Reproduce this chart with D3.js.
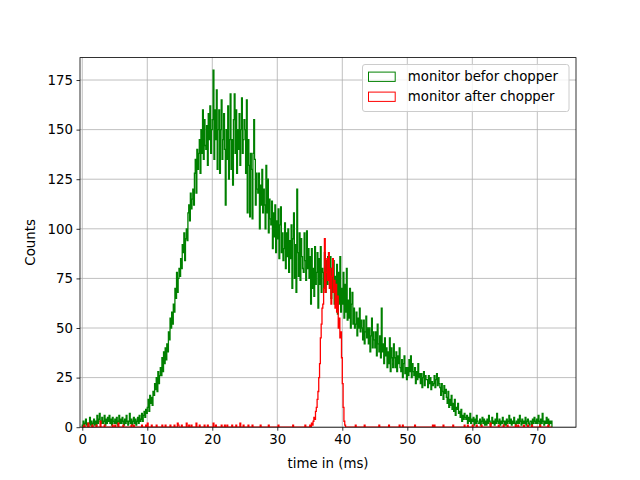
<!DOCTYPE html>
<html>
<head>
<meta charset="utf-8">
<script src="https://cdn.jsdelivr.net/npm/d3@7"></script>
<style>
  body { margin: 0; background: #fff; }
  svg { font-family: "DejaVu Sans", sans-serif; }
</style>
</head>
<body>
<svg id="chart" width="640" height="480"></svg>
<script>
// histogram bins start at 0 ms, 0.125 ms wide (8 bins per ms, one row per ms)
const binStart = 0;
const binWidth = 0.125;

// counts per bin, monitor before the chopper
const countsBefore = [
    1, 3, 0, 2, 4, 1, 2, 0,
    2, 5, 1, 3, 0, 2, 4, 1,
    3, 1, 6, 2, 4, 7, 3, 2,
    5, 2, 3, 6, 1, 4, 2, 5,
    3, 6, 2, 4, 1, 5, 3, 2,
    4, 2, 5, 1, 3, 6, 2, 4,
    2, 5, 3, 1, 4, 2, 6, 3,
    1, 3, 7, 2, 4, 1, 3, 5,
    2, 4, 1, 3, 5, 2, 6, 3,
    4, 7, 3, 6, 8, 5, 9, 7,
    10, 14, 8, 16, 12, 15, 11, 18,
    16, 22, 19, 25, 18, 28, 22, 26,
    30, 26, 35, 28, 38, 32, 40, 34,
    42, 38, 48, 44, 55, 50, 58, 52,
    62, 58, 70, 65, 78, 68, 75, 80,
    76, 85, 80, 92, 88, 98, 84, 95,
    100, 94, 108, 112, 104, 118, 110, 115,
    120, 112, 128, 135, 118, 140, 130, 138,
    145, 128, 150, 138, 160, 135, 155, 142,
    140, 152, 132, 158, 145, 162, 138, 150,
    155, 180, 135, 160, 145, 170, 130, 150,
    160, 128, 150, 165, 135, 145, 158, 140,
    112, 150, 135, 162, 125, 145, 168, 130,
    145, 122, 155, 168, 138, 160, 128, 150,
    140, 158, 132, 150, 166, 138, 145, 155,
    150, 128, 165, 108, 145, 132, 106, 138,
    130, 105, 138, 155, 135, 112, 128, 120,
    118, 128, 100, 122, 112, 130, 108, 120,
    112, 100, 132, 108, 125, 98, 115, 105,
    102, 114, 90, 108, 96, 112, 88, 104,
    95, 110, 85, 102, 111, 88, 98, 84,
    90, 103, 80, 98, 86, 100, 78, 94,
    85, 102, 70, 95, 108, 75, 92, 68,
    120, 88, 76, 98, 74, 95, 86, 80,
    78, 98, 84, 74, 99, 80, 90, 75,
    86, 62, 90, 70, 80, 66, 91, 72,
    78, 88, 60, 85, 72, 91, 68, 80,
    78, 70, 88, 68, 84, 72, 86, 74,
    72, 86, 65, 80, 68, 84, 62, 76,
    66, 82, 57, 78, 62, 86, 58, 70,
    62, 78, 55, 72, 58, 80, 54, 64,
    55, 70, 50, 62, 68, 52, 60, 50,
    52, 58, 46, 55, 50, 60, 48, 54,
    50, 44, 54, 42, 48, 56, 45, 50,
    42, 50, 38, 46, 55, 40, 48, 44,
    40, 48, 36, 52, 42, 38, 46, 35,
    60, 38, 42, 32, 45, 36, 40, 30,
    38, 32, 45, 28, 40, 35, 30, 42,
    35, 30, 38, 28, 36, 32, 40, 30,
    28, 34, 25, 32, 36, 27, 30, 24,
    30, 26, 34, 28, 36, 25, 32, 28,
    26, 30, 22, 28, 24, 32, 25, 27,
    22, 27, 20, 25, 28, 21, 26, 24,
    24, 20, 26, 22, 25, 19, 23, 21,
    22, 26, 20, 24, 27, 21, 25, 22,
    20, 16, 22, 18, 14, 21, 17, 19,
    15, 12, 18, 10, 14, 11, 16, 9,
    12, 8, 14, 6, 10, 9, 12, 7,
    8, 5, 9, 3, 6, 4, 7, 5,
    4, 6, 2, 5, 3, 7, 2, 4,
    3, 5, 1, 4, 2, 6, 3, 2,
    2, 4, 1, 3, 5, 2, 4, 1,
    3, 1, 4, 2, 6, 3, 1, 2,
    5, 2, 3, 1, 4, 2, 7, 3,
    2, 4, 1, 3, 2, 5, 3, 1,
    3, 1, 4, 2, 3, 6, 2, 4,
    1, 3, 2, 5, 2, 1, 3, 2,
    4, 2, 6, 3, 1, 4, 2, 3,
    2, 5, 1, 3, 4, 2, 1, 3,
    3, 1, 4, 2, 5, 3, 2, 4,
    2, 6, 3, 1, 4, 2, 7, 3,
    1, 3, 2, 5, 2, 4, 1, 3,
    2, 3
];

// counts per bin, monitor after the chopper
const countsAfter = [
    0, 0, 1, 0, 0, 0, 0, 2,
    0, 0, 0, 0, 1, 0, 0, 0,
    0, 1, 0, 0, 0, 0, 3, 0,
    0, 0, 0, 1, 0, 0, 0, 0,
    0, 0, 0, 0, 0, 1, 0, 0,
    1, 0, 0, 0, 2, 0, 0, 0,
    0, 0, 1, 0, 0, 0, 0, 0,
    0, 0, 0, 0, 1, 0, 0, 1,
    0, 0, 0, 0, 0, 0, 0, 0,
    0, 1, 0, 0, 0, 0, 1, 0,
    2, 0, 0, 0, 0, 1, 0, 0,
    0, 0, 0, 1, 0, 0, 0, 0,
    0, 0, 1, 0, 0, 0, 1, 0,
    0, 0, 0, 0, 1, 0, 0, 0,
    0, 1, 0, 0, 0, 2, 1, 0,
    0, 0, 1, 0, 0, 0, 0, 0,
    2, 0, 0, 1, 0, 0, 1, 0,
    0, 0, 0, 0, 2, 0, 0, 0,
    1, 0, 0, 0, 0, 0, 1, 0,
    0, 0, 1, 0, 0, 0, 0, 0,
    0, 2, 0, 0, 1, 0, 0, 0,
    0, 0, 0, 1, 0, 0, 0, 1,
    0, 0, 1, 0, 0, 0, 0, 0,
    1, 0, 0, 0, 0, 1, 0, 0,
    0, 0, 2, 0, 0, 0, 1, 0,
    0, 0, 0, 0, 1, 0, 0, 0,
    0, 1, 0, 0, 0, 0, 0, 0,
    0, 0, 0, 1, 0, 0, 0, 0,
    0, 0, 0, 0, 0, 1, 0, 0,
    0, 0, 0, 0, 0, 0, 0, 0,
    0, 1, 0, 0, 0, 0, 0, 0,
    0, 0, 0, 0, 0, 0, 0, 0,
    0, 0, 0, 1, 0, 0, 0, 0,
    0, 0, 0, 0, 0, 0, 0, 0,
    0, 0, 1, 0, 0, 0, 0, 0,
    1, 0, 2, 1, 3, 5, 4, 8,
    10, 14, 18, 25, 32, 45, 52, 60,
    62, 70, 95, 68, 78, 85, 74, 88,
    70, 80, 62, 76, 85, 68, 74, 60,
    72, 58, 66, 50, 55, 45, 48, 35,
    22, 10, 3, 1, 0, 0, 0, 0,
    0, 0, 0, 0, 0, 0, 0, 0,
    1, 0, 0, 0, 0, 0, 0, 0,
    0, 0, 0, 1, 0, 0, 0, 0,
    0, 0, 0, 0, 0, 0, 0, 0,
    0, 0, 0, 0, 0, 1, 0, 0,
    0, 0, 0, 0, 0, 0, 0, 0,
    0, 1, 0, 0, 0, 0, 0, 0,
    0, 0, 0, 0, 0, 0, 1, 0,
    0, 0, 1, 0, 0, 0, 0, 0,
    0, 0, 0, 0, 0, 0, 0, 0,
    0, 1, 0, 0, 0, 0, 0, 0,
    0, 0, 0, 0, 0, 0, 0, 0,
    0, 0, 0, 0, 0, 0, 0, 1,
    0, 1, 0, 0, 0, 0, 0, 0,
    0, 0, 0, 0, 1, 0, 0, 0,
    0, 0, 0, 0, 0, 0, 0, 0,
    1, 0, 0, 0, 0, 0, 0, 0,
    0, 0, 0, 0, 0, 0, 1, 0,
    0, 0, 1, 0, 0, 0, 0, 0,
    1, 0, 0, 0, 0, 1, 0, 0,
    0, 0, 0, 1, 0, 0, 0, 0,
    0, 0, 0, 0, 0, 0, 2, 0,
    0, 0, 0, 0, 0, 0, 0, 0,
    1, 0, 0, 0, 0, 0, 1, 0,
    0, 0, 0, 1, 0, 0, 0, 0,
    0, 0, 0, 0, 0, 1, 0, 0,
    1, 0, 0, 0, 0, 0, 0, 1,
    0, 0, 0, 0, 1, 0, 0, 0,
    0, 1, 0, 0, 0, 0, 0, 0,
    0, 0, 0, 1, 0, 0, 0, 0,
    0, 0, 0, 0, 0, 1, 0, 0,
    0, 0
];

const xTicks = [0, 10, 20, 30, 40, 50, 60, 70];
const yTicks = [0, 25, 50, 75, 100, 125, 150, 175];
const seriesNames = ["monitor befor chopper", "monitor after chopper"];
const seriesColors = ["green", "red"];

const svg = d3.select("#chart");
const margin = {top: 57.6, right: 64, bottom: 52.8, left: 80};
const width = 640 - margin.left - margin.right;
const height = 480 - margin.top - margin.bottom;

let xScale = d3.scaleLinear().domain([-0.35, 75.95]).range([0, width]);
let yScale = d3.scaleLinear().domain([0, 186.3]).range([height, 0]);

let g = svg.append("g")
    .attr("transform", "translate(" + margin.left + "," + margin.top + ")");

// grid
g.append("g").selectAll("line").data(xTicks).enter().append("line")
    .attr("x1", d => xScale(d)).attr("x2", d => xScale(d))
    .attr("y1", 0).attr("y2", height)
    .attr("stroke", "#b0b0b0").attr("stroke-width", 0.8);
g.append("g").selectAll("line").data(yTicks).enter().append("line")
    .attr("x1", 0).attr("x2", width)
    .attr("y1", d => yScale(d)).attr("y2", d => yScale(d))
    .attr("stroke", "#b0b0b0").attr("stroke-width", 0.8);

// step outline like matplotlib histtype='step'
function stepPoints(counts) {
    let pts = [[binStart, 0]];
    counts.forEach(function(c, i) {
        let x0 = binStart + i * binWidth;
        pts.push([x0, c]);
        pts.push([x0 + binWidth, c]);
    });
    pts.push([binStart + counts.length * binWidth, 0]);
    return pts;
}

let line = d3.line()
    .x(d => xScale(d[0]))
    .y(d => yScale(d[1]));

svg.append("clipPath").attr("id", "plotArea")
    .append("rect").attr("width", width).attr("height", height);

[countsBefore, countsAfter].forEach(function(counts, i) {
    g.append("path")
        .attr("d", line(stepPoints(counts)))
        .attr("fill", "none")
        .attr("stroke", seriesColors[i])
        .attr("stroke-width", 1.3)
        .attr("stroke-linejoin", "miter")
        .attr("clip-path", "url(#plotArea)");
});

// axes
let xAxis = g.append("g")
    .attr("transform", "translate(0," + height + ")")
    .call(d3.axisBottom(xScale).tickValues(xTicks).tickSizeOuter(0).tickSize(3.5).tickPadding(3.5));
let yAxis = g.append("g")
    .call(d3.axisLeft(yScale).tickValues(yTicks).tickSizeOuter(0).tickSize(3.5).tickPadding(3.5));
[xAxis, yAxis].forEach(function(a) {
    a.select(".domain").remove();
    a.selectAll(".tick line").attr("stroke", "#000").attr("stroke-width", 0.8);
    a.selectAll(".tick text")
        .attr("fill", "#000")
        .style("font-family", "DejaVu Sans")
        .style("font-size", "13.33px");
});

// frame
g.append("rect")
    .attr("width", width).attr("height", height)
    .attr("fill", "none").attr("stroke", "#000").attr("stroke-width", 0.8);

// axis labels
svg.append("text")
    .attr("x", margin.left + width / 2).attr("y", 468)
    .attr("text-anchor", "middle")
    .style("font-size", "13.33px")
    .text("time in (ms)");
svg.append("text")
    .attr("transform", "translate(35," + (margin.top + height / 2) + ") rotate(-90)")
    .attr("text-anchor", "middle")
    .style("font-size", "13.33px")
    .text("Counts");

// legend
let legend = svg.append("g").attr("transform", "translate(362.5,64.5)");
legend.append("rect")
    .attr("width", 206.5).attr("height", 47)
    .attr("rx", 2.5)
    .attr("fill", "#fff").attr("fill-opacity", 0.8)
    .attr("stroke", "#cccccc").attr("stroke-width", 1);
seriesNames.forEach(function(name, i) {
    let row = legend.append("g").attr("transform", "translate(0," + (12.2 + i * 20) + ")");
    row.append("rect")
        .attr("x", 6).attr("y", -4.6)
        .attr("width", 26.7).attr("height", 9.3)
        .attr("fill", "none")
        .attr("stroke", seriesColors[i]).attr("stroke-width", 1);
    row.append("text")
        .attr("x", 45.3).attr("y", 0)
        .attr("dy", "0.35em")
        .style("font-size", "13.33px")
        .text(name);
});
</script>
</body>
</html>
